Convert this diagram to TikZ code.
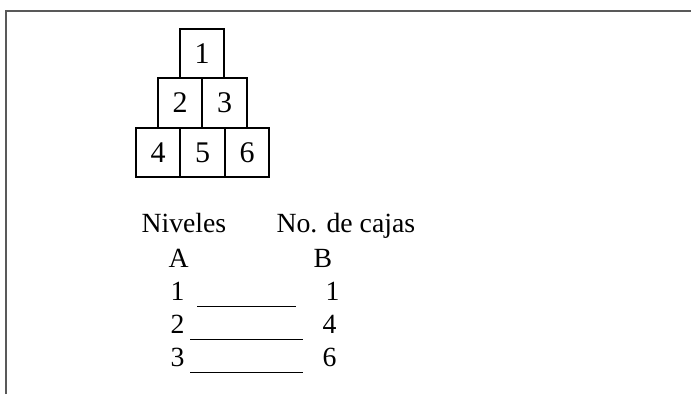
\documentclass[tikz,border=0pt]{standalone}
\usepackage{fontspec}
\setmainfont{Liberation Serif}
\usetikzlibrary{positioning}
\tikzset{
  caja/.style={
    shape = rectangle,
    draw,
    line width = 0.7pt,
    minimum width = 17.8pt,
    minimum height = 19.8pt,
    inner sep = 0pt,
    font = \fontsize{12}{14}\selectfont
  },
  texto/.style={
    anchor = base west,
    inner sep = 0pt,
    font = \fontsize{11.1}{13}\selectfont
  },
  raya/.style={
    line width = 0.4pt
  },
  marco/.style={
    draw = black!65,
    line width = 0.6pt
  }
}

\begin{document}
\begin{tikzpicture}[x=0.4pt,y=-0.4pt]
\useasboundingbox (0,0) rectangle (691,394);
\draw[marco] (6,394) -- (6,11) -- (691,11);
% piramide
      \foreach \n/\x in {4/158,5/202.5,6/247}{
        \node[caja] (c\n) at (\x,152.5) {\n}; }
      \foreach \n/\x in {2/180,3/224.5}{
        \node[caja] (c\n) at (\x,103) {\n}; }
\node[caja] (c1) at (202,53.5) {1};
% tabla
\node[texto] (niv) at (141,232) {Niveles};
\node[texto] (cajas) at (276,232) {No. de cajas};
\node[texto] (colA) at (168,267) {A};
\node[texto] (colB) at (313,267) {B};
          \foreach \i/\y/\b/\xb/\xi/\xf in {1/300/1/325/197/296, 2/333/4/322/190/303, 3/366/6/322/190/303}{
            \node[texto] (a\i) at (170,\y) {\i};
            \node[texto] (b\i) at (\xb,\y) {\b};
            \coordinate (ini\i) at (\xi,\y+6);
            \coordinate (fin\i) at (\xf,\y+6);
            \draw[raya] (ini\i) -- (fin\i); }
\end{tikzpicture}
\end{document}
